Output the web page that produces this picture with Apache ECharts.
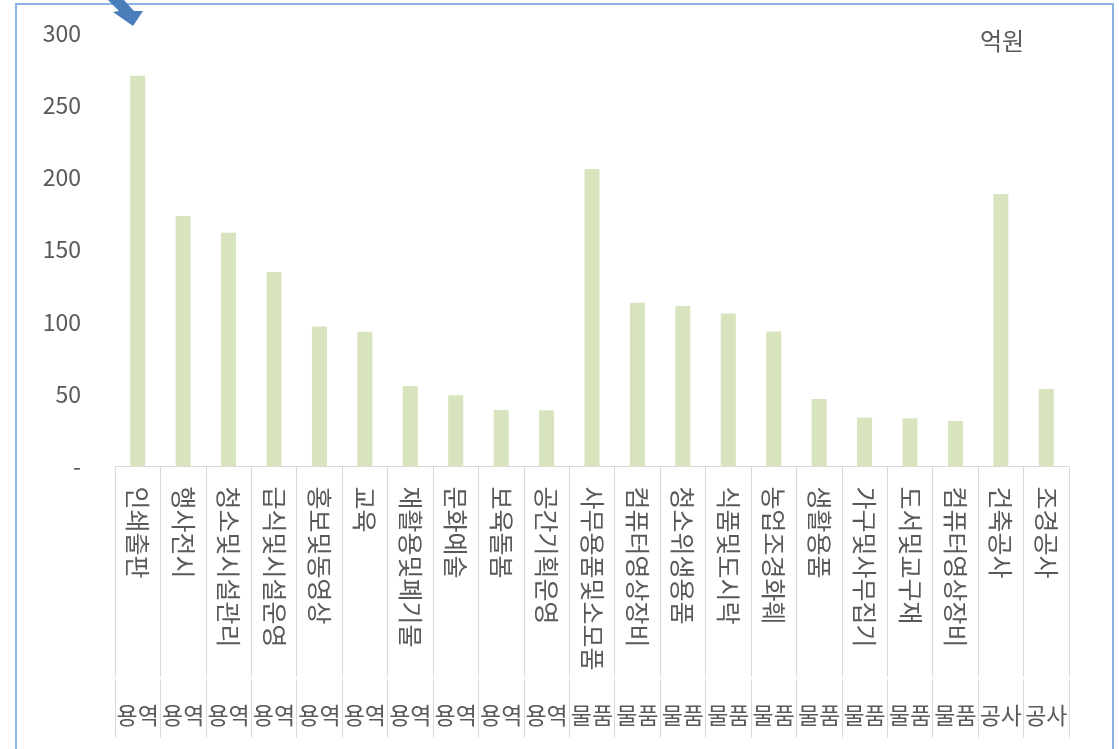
<!DOCTYPE html>
<html>
<head>
<meta charset="utf-8">
<script src="https://cdn.jsdelivr.net/npm/echarts@6/dist/echarts.min.js"></script>
<style>
html,body{margin:0;padding:0;background:#fff;}
#chart{width:1119px;height:749px;}
</style>
</head>
<body>
<div id="chart"></div>
<script>
var categories = ['인쇄출판','행사전시','청소및시설관리','급식및시설운영','홍보및동영상','교육','재활용및폐기물','문화예술','보육돌봄','공간기획운영',
  '사무용품및소모품','컴퓨터영상장비','청소위생용품','식품및도시락','농업조경화훼','생활용품','가구및사무집기','도서및교구재','컴퓨터영상장비','건축공사','조경공사'];
var groups = ['용역','용역','용역','용역','용역','용역','용역','용역','용역','용역',
  '물품','물품','물품','물품','물품','물품','물품','물품','물품','공사','공사'];
var values = [270.4,173.4,161.8,134.6,96.8,93.3,55.7,49.3,39.1,38.9,
  205.9,113.4,111.1,105.8,93.5,46.7,33.8,33.3,31.5,188.6,53.6];
var yTicks = [0,50,100,150,200,250,300];
var unitLabel = '억원';

var FONT = '"Noto Sans CJK KR","Noto Sans",sans-serif';
var TXT = '#595959';
var SEP = '#d9d9d9';

var chart = echarts.init(document.getElementById('chart'), null, {renderer:'canvas'});
chart.setOption({
  animation:false,
  backgroundColor:'#ffffff',
  grid:{left:115, right:50, top:33, bottom:282.5, containLabel:false},
  xAxis:[{
    type:'category', data:categories, position:'bottom',
    axisLine:{show:true, lineStyle:{color:SEP, width:1}},
    axisTick:{show:true, interval:0, length:210, lineStyle:{color:SEP, width:1}},
    axisLabel:{interval:0, rotate:-90, margin:20, color:TXT, fontSize:25, fontFamily:FONT}
  },{
    type:'category', data:groups, position:'bottom', offset:213,
    axisLine:{show:false},
    axisTick:{show:true, interval:0, length:58, lineStyle:{color:SEP, width:1}},
    axisLabel:{interval:0, margin:24, color:TXT, fontSize:23, fontFamily:FONT}
  }],
  yAxis:{
    type:'value', min:0, max:300, interval:50,
    axisLine:{show:false}, axisTick:{show:false}, splitLine:{show:false},
    axisLabel:{margin:34, color:TXT, fontSize:23, fontFamily:FONT,
      formatter:function(v){ return yTicks.indexOf(v) >= 0 ? (v === 0 ? '-' : String(v)) : ''; }}
  },
  series:[{
    type:'bar', data:values, xAxisIndex:0, barWidth:15,
    itemStyle:{color:'#d7e4bd'}
  }],
  graphic:[
    {type:'rect', shape:{x:16, y:4, width:1097, height:800}, style:{fill:'none', stroke:'#8db3e2', lineWidth:2}, silent:true, z:0},
    {type:'polygon', shape:{points:[[108,0],[124,0],[134,11],[143,11],[133,26],[113,12],[119,11]]}, style:{fill:'#4a7ebb'}, silent:true},
    {type:'text', left:980, top:29, style:{text:unitLabel, fill:TXT, font:'24px ' + FONT}}
  ]
});
</script>
</body>
</html>
